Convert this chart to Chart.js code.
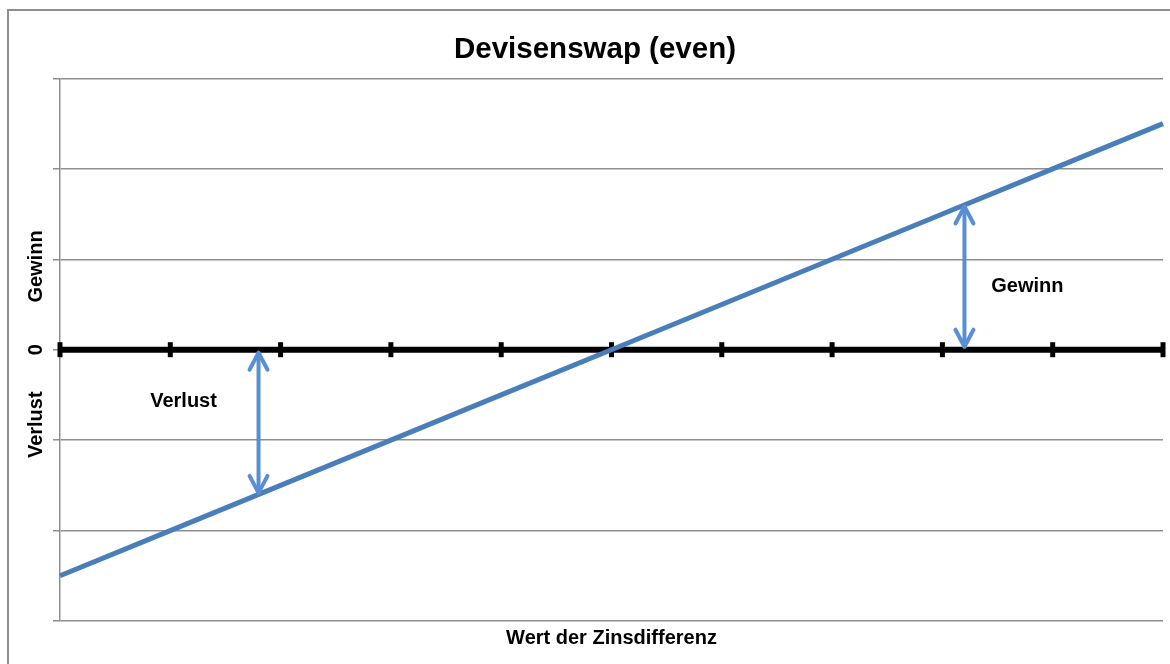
<!DOCTYPE html>
<html>
<head>
<meta charset="utf-8">
<script src="https://cdn.jsdelivr.net/npm/chart.js@4.4.0/dist/chart.umd.min.js"></script>
<style>
html,body{margin:0;padding:0;background:#fff;}
#wrap{width:1170px;height:664px;position:relative;}
</style>
</head>
<body>
<div id="wrap"><canvas id="c" width="1170" height="664"></canvas></div>
<script>
// ---- data ----
const xValues = [0, 1, 2, 3, 4, 5, 6, 7, 8, 9, 10];
const swapValues = [-2.5, -2, -1.5, -1, -0.5, 0, 0.5, 1, 1.5, 2, 2.5];
const zeroValues = [0, 0, 0, 0, 0, 0, 0, 0, 0, 0, 0];
const yTickLabels = ['', '', '', '0', '', '', ''];
const yMin = -3;
const yMax = 3;
const arrowX = [1.8, 8.2];
const arrowEnd = [-1.6, 1.6];
const noteText = ['Verlust', 'Gewinn'];
const noteX = [1.12, 8.77];
const noteY = [-0.57, 0.70];
const yTitleText = ['Verlust', 'Gewinn'];
const yTitleAt = [-0.83, 0.92];
const chartTitle = 'Devisenswap (even)';
const xTitle = 'Wert der Zinsdifferenz';

const FONT = 'Liberation Sans, Arial, sans-serif';

const decor = {
  id: 'decor',
  beforeDraw(chart) {
    const ctx = chart.ctx;
    ctx.save();
    ctx.strokeStyle = '#8f8f8f';
    ctx.lineWidth = 2;
    ctx.strokeRect(8, 10, 1200, 700);
    ctx.restore();
  },
  afterDatasetsDraw(chart) {
    const ctx = chart.ctx;
    const xs = chart.scales.x, ys = chart.scales.y;
    ctx.save();
    ctx.strokeStyle = '#5a8ed3';
    ctx.lineWidth = 4;
    ctx.lineCap = 'round';
    ctx.lineJoin = 'round';
    arrowX.forEach((xv, i) => {
      const px = xs.getPixelForValue(xv);
      const p0 = ys.getPixelForValue(0);
      const p1 = ys.getPixelForValue(arrowEnd[i]);
      const dir = p1 > p0 ? 1 : -1;
      const a = p0 + dir * 3;
      const b = p1 - dir * 1.5;
      ctx.beginPath();
      ctx.moveTo(px, a);
      ctx.lineTo(px, b);
      ctx.stroke();
      ctx.beginPath();
      ctx.moveTo(px - 9, a + dir * 17);
      ctx.lineTo(px, a);
      ctx.lineTo(px + 9, a + dir * 17);
      ctx.stroke();
      ctx.beginPath();
      ctx.moveTo(px - 9, b - dir * 17);
      ctx.lineTo(px, b);
      ctx.lineTo(px + 9, b - dir * 17);
      ctx.stroke();
    });
    ctx.fillStyle = '#000';
    ctx.font = 'bold 20px ' + FONT;
    ctx.textAlign = 'center';
    ctx.textBaseline = 'middle';
    noteText.forEach((t, i) => {
      ctx.fillText(t, xs.getPixelForValue(noteX[i]), ys.getPixelForValue(noteY[i]));
    });
    ctx.restore();
  },
  afterDraw(chart) {
    const ctx = chart.ctx;
    const ys = chart.scales.y;
    const cx = ys.left + 9;
    ctx.save();
    ctx.fillStyle = '#000';
    ctx.font = 'bold 20px ' + FONT;
    ctx.textAlign = 'center';
    ctx.textBaseline = 'middle';
    const items = yTitleText.map((t, i) => [t, yTitleAt[i]]);
    yTickLabels.forEach((l, i) => {
      if (l) items.push([l, yMin + i]);
    });
    items.forEach(([t, v]) => {
      ctx.save();
      ctx.translate(cx, ys.getPixelForValue(v));
      ctx.rotate(-Math.PI / 2);
      ctx.fillText(t, 0, 0);
      ctx.restore();
    });
    ctx.restore();
  }
};

new Chart(document.getElementById('c'), {
  type: 'line',
  data: {
    datasets: [
      {
        label: 'Devisenswap',
        data: xValues.map((x, i) => ({ x: x, y: swapValues[i] })),
        borderColor: '#4a7ebb',
        borderWidth: 5,
        pointRadius: 0,
        tension: 0,
        order: 1,
        clip: false
      },
      {
        label: 'Null',
        data: xValues.map((x, i) => ({ x: x, y: zeroValues[i] })),
        borderColor: '#000',
        borderWidth: 6,
        pointStyle: 'line',
        pointRotation: 90,
        pointRadius: 7.5,
        pointBorderWidth: 5,
        pointBorderColor: '#000',
        pointBackgroundColor: '#000',
        pointHoverRadius: 7.5,
        tension: 0,
        order: 2,
        clip: false
      }
    ]
  },
  options: {
    responsive: false,
    animation: false,
    devicePixelRatio: 1,
    layout: { autoPadding: false, padding: { left: 27, right: 7, top: 0, bottom: 14 } },
    plugins: {
      legend: { display: false },
      tooltip: { enabled: false },
      title: {
        display: true,
        text: chartTitle,
        color: '#000',
        font: { family: FONT, size: 29.5, weight: 'bold' },
        padding: { top: 32, bottom: 11 }
      }
    },
    scales: {
      x: {
        type: 'linear',
        min: xValues[0],
        max: xValues[xValues.length - 1],
        grid: { display: false, drawTicks: false },
        border: { display: false },
        ticks: { display: false },
        title: {
          display: true,
          text: xTitle,
          color: '#000',
          font: { family: FONT, size: 20, weight: 'bold' },
          padding: { top: 5, bottom: 0 }
        }
      },
      y: {
        min: yMin,
        max: yMax,
        ticks: { display: false, stepSize: 1 },
        grid: { color: '#8f8f8f', lineWidth: 1.5, drawTicks: true, tickLength: 7 },
        border: { display: true, color: '#8f8f8f', width: 1.5 },
        afterFit(scale) { scale.width = 33; }
      }
    }
  },
  plugins: [decor]
});
</script>
</body>
</html>
